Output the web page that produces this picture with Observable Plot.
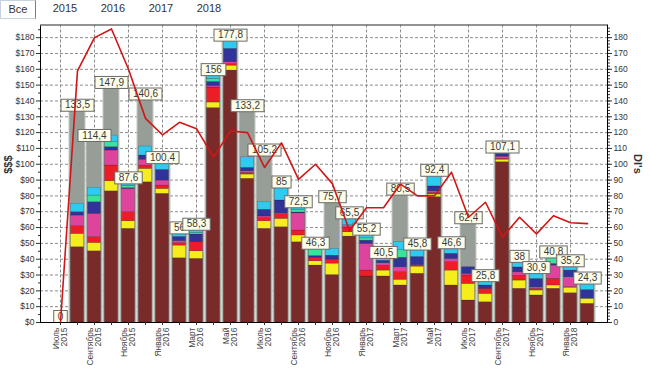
<!DOCTYPE html>
<html><head><meta charset="utf-8">
<script src="https://cdn.jsdelivr.net/npm/d3@7"></script>
<script src="https://cdn.jsdelivr.net/npm/@observablehq/plot@0.6"></script>
<style>
body{margin:0;background:#fff;font-family:"Liberation Sans",Arial,sans-serif;}
#bar{position:relative;height:20px;width:650px;}
.btn{position:absolute;top:0;height:17px;line-height:17px;font-size:11px;color:#333;text-align:center;}
#all{left:0;width:34px;border:1px solid #c6d2de;border-right:1px solid #5a86b6;background:#fff;}
#chart svg{display:block;}
</style></head><body>
<div id="bar">
  <div class="btn" id="all">Все</div>
  <div class="btn" style="left:50px;width:30px">2015</div>
  <div class="btn" style="left:98px;width:30px">2016</div>
  <div class="btn" style="left:146px;width:30px">2017</div>
  <div class="btn" style="left:194px;width:30px">2018</div>
</div>
<div id="chart"></div>
<script>
const months = ["Июль 2015","Август 2015","Сентябрь 2015","Октябрь 2015","Ноябрь 2015","Декабрь 2015",
  "Январь 2016","Февраль 2016","Март 2016","Апрель 2016","Май 2016","Июнь 2016","Июль 2016","Август 2016",
  "Сентябрь 2016","Октябрь 2016","Ноябрь 2016","Декабрь 2016","Январь 2017","Февраль 2017","Март 2017",
  "Апрель 2017","Май 2017","Июнь 2017","Июль 2017","Август 2017","Сентябрь 2017","Октябрь 2017",
  "Ноябрь 2017","Декабрь 2017","Январь 2018","Февраль 2018"];
const tickMonths = ["Июль 2015","Сентябрь 2015","Ноябрь 2015","Январь 2016","Март 2016","Май 2016",
  "Июль 2016","Сентябрь 2016","Ноябрь 2016","Январь 2017","Март 2017","Май 2017","Июль 2017",
  "Сентябрь 2017","Ноябрь 2017","Январь 2018"];
const totals = [0,133.5,114.4,147.9,87.6,140.6,100.4,56,58.3,156,177.8,133.2,105.2,85,72.5,46.3,75.7,65.5,
  55.2,40.5,80.5,45.8,92.4,46.6,62.4,25.8,107.1,38,30.9,40.8,35.2,24.3];
const s1 = [0,47.6,45.0,82.9,59.2,88.6,81.3,40.6,40.2,135.5,159.2,90.8,59.2,60.2,50.7,36.0,30.0,54.3,
  29.1,29.1,23.4,30.8,79.2,23.4,13.9,12.8,101.3,21.3,17.1,21.3,18.5,11.8];
const s2 = [0,8.4,5.3,6.4,4.8,8.5,3.1,8.0,4.8,3.5,3.1,2.7,4.8,5.3,4.3,2.7,7.2,2.7,
  0,3.7,3.6,4.5,1.7,9.4,10.5,5.3,1.6,5.2,3.1,2.1,3.5,3.2];
const s3 = [0,4.8,3.6,9.9,5.7,2.0,2.1,1.5,5.7,9.5,1.0,1.0,2.0,3.0,3.1,2.3,2.6,3.0,
  3.7,3.0,4.8,0.5,1.0,5.3,5.3,3.2,0.5,3.0,1.0,4.2,0.3,0];
const s4 = [0,6.8,14.8,9.5,14.7,3.8,3.2,1.4,0,1.0,1.2,1.1,1.0,0.5,10.9,0,0,1.5,
  16.9,1.7,3.1,0.5,1.0,2.1,1.0,0,1.4,2.2,1.0,8.4,6.3,0];
const s5 = [0,2.1,7.3,2.1,0.5,2.6,6.7,2.6,4.9,2.5,8.4,2.1,4.2,8.1,0.5,1.0,2.4,0,
  2.0,1.5,6.0,5.1,3.1,3.2,4.2,2.1,1.8,3.1,5.3,1.0,4.2,5.5];
const s6 = [0,0,4.2,3.1,1.5,0,0,0,1.0,2.0,0,0,0,0,1.5,4.3,0,0,
  1.5,0,4.8,0,0,0,0,0,0,0,0,3.8,0,0];
const s7 = [0,5.3,4.9,4.2,1.2,5.7,4.0,1.9,1.7,2.0,4.9,6.7,4.8,7.9,1.5,0,4.3,4.0,
  2.0,1.5,5.0,4.4,6.4,3.2,0,2.4,0.5,3.2,3.4,0,2.4,3.8];
const dis = [0,159,180,185.5,160,129,118.5,126.5,122.5,104.5,121,120,98,113.5,90.5,100,87.6,58,
  72.5,72.5,87.5,80,80,95,66.5,76,54,66.5,56,67.5,63,62.5];

const seriesNames = ["s1","s2","s3","s4","s5","s6","s7"];
const seriesValues = [s1,s2,s3,s4,s5,s6,s7];
const seriesColors = ["#7b2a2a","#f6ee1c","#ee1c24","#de449e","#30339a","#38e49a","#2ccbef"];

const stackData = seriesNames.flatMap((s,k) => months.map((m,i) => ({month:m, series:s, value:seriesValues[k][i]})));
const fmt = v => String(v).replace(".", ",");
const charW = c => (c === "," ? 2.78 : 5.56);

const labels = Plot.text(months, {
  x: d => d, y: (d,i) => totals[i], text: (d,i) => fmt(totals[i]),
  dy: -6, fontSize: 10, fill: "#3a3a3a",
  render(index, scales, values, dimensions, context, next) {
    const g = next(index, scales, values, dimensions, context);
    const ns = "http://www.w3.org/2000/svg";
    for (const t of Array.from(g.querySelectorAll("text"))) {
      const s = t.textContent;
      const w = Array.from(s).reduce((a,c) => a + charW(c), 0) + 8;
      const r = document.createElementNS(ns, "rect");
      const tr = t.getAttribute("transform");
      let ox = 0, oy = 0;
      if (tr) r.setAttribute("transform", tr);
      else { ox = +t.getAttribute("x") || 0; oy = +t.getAttribute("y") || 0; }
      r.setAttribute("x", ox - w/2);
      r.setAttribute("y", oy - 6);
      r.setAttribute("width", w);
      r.setAttribute("height", 12);
      r.setAttribute("fill", "#fdfde9");
      r.setAttribute("stroke", "#6a6a6a");
      r.setAttribute("stroke-width", 1);
      t.parentNode.insertBefore(r, t);
    }
    return g;
  }
});

const chart = Plot.plot({
  width: 650, height: 352,
  marginTop: 4.5, marginBottom: 50, marginLeft: 40, marginRight: 43,
  style: {fontFamily: "'Liberation Sans', Arial, sans-serif", color: "#333", background: "#fff"},
  x: {type: "band", domain: months, paddingInner: 0.08, paddingOuter: 0.333, align: 0.5, axis: null},
  y: {domain: [0, 188], axis: null},
  color: {type: "ordinal", domain: seriesNames, range: seriesColors},
  marks: [
    Plot.gridY(d3.range(10, 181, 10), {stroke: "#8c8c8c", strokeOpacity: 1, strokeDasharray: "3,2"}),
    Plot.gridX(tickMonths, {stroke: "#8c8c8c", strokeOpacity: 1, strokeDasharray: "3,2"}),
    Plot.barY(months, {x: d => d, y: (d,i) => totals[i], fill: "#979d97", stroke: "#c6cac6", strokeWidth: 1}),
    Plot.barY(stackData, {x: "month", y: "value", fill: "series", insetLeft: 1.5, insetRight: 1.5,
      stroke: "rgba(0,0,0,0.3)", strokeWidth: 0.5}),
    labels,
    Plot.line(months, {x: d => d, y: (d,i) => dis[i], stroke: "#d01616", strokeWidth: 1.6}),
    Plot.frame({stroke: "#000"}),
    Plot.ruleY([188], {stroke: "#a8a8a8"}),
    Plot.axisY(d3.range(0, 181, 10), {anchor: "left", label: null, tickFormat: d => "$" + d, tickSize: 4, tickPadding: 2, fontSize: 8.5}),
    Plot.axisY(d3.range(5, 186, 10), {anchor: "left", label: null, tickFormat: () => "", tickSize: 2}),
    Plot.axisY(d3.range(0, 181, 10), {anchor: "right", label: null, tickFormat: d => String(d), tickSize: 4, tickPadding: 2, fontSize: 8.5}),
    Plot.axisY(d3.range(0, 187, 2), {anchor: "right", label: null, tickFormat: () => "", tickSize: 2}),
    Plot.axisX(months, {anchor: "bottom", label: null, tickFormat: () => "", tickSize: 3}),
    Plot.axisX(tickMonths, {anchor: "bottom", label: null, tickFormat: d => d.replace(" ", "\n"), tickRotate: -90,
      tickSize: 3, tickPadding: 2, fontSize: 8.5, lineHeight: 0.9, fill: "#444"}),
    Plot.text(["$$$"], {text: d => d, frameAnchor: "left", dx: -32, rotate: -90, fontWeight: "bold", fontSize: 11, fill: "#333"}),
    Plot.text(["DI's"], {text: d => d, frameAnchor: "right", dx: 30, rotate: 90, fontWeight: "bold", fontSize: 11, fill: "#333"})
  ]
});
document.getElementById("chart").appendChild(chart);
</script>
</body></html>
